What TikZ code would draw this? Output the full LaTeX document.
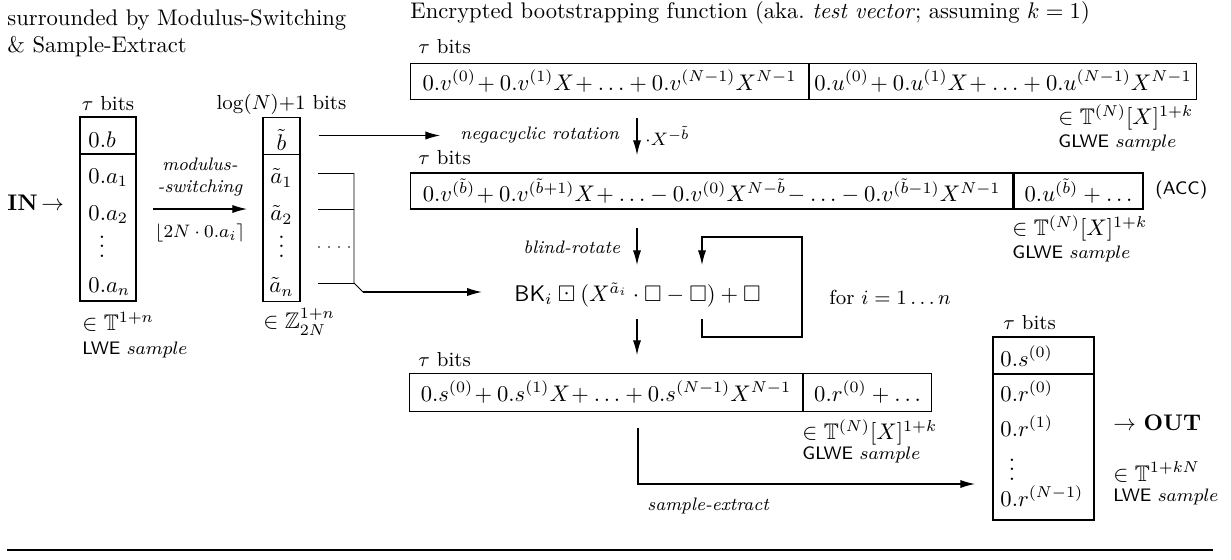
\documentclass[tikz,border=0pt]{standalone}
\usepackage{amsmath,amssymb}
\usetikzlibrary{arrows.meta}
\newcommand{\pxu}{0.4425pt}
\begin{document}
\begin{tikzpicture}[x=0.4425pt, y=-0.4425pt,
  lbl/.style={inner sep=0pt},
  oplabel/.style={inner sep=0pt, font=\footnotesize\itshape},
  cell/.style={draw, inner sep=0pt, line width=0.45pt},
  lwecell/.style={draw, inner sep=0pt, line width=0.8pt},
  arr/.style={-{Latex[length=6.5pt,width=3.6pt]}, line width=0.5pt}]
\useasboundingbox (0,0) rectangle (1231,559);
% Headings
\node[lbl, anchor=west] (headA) at (7,20) {surrounded by Modulus-Switching};
\node[lbl, anchor=west] (headB) at (7,47) {\& Sample-Extract};
\node[lbl, anchor=west] (headC) at (410,13) {Encrypted bootstrapping function (aka.\ \emph{test vector}; assuming $k=1$)};
% Input LWE sample
\node[lbl, anchor=west] (in) at (7,203) {\textbf{IN}\,$\rightarrow$};
\node[lwecell, minimum width=56*\pxu, minimum height=37*\pxu] (lwetop) at (108,135.5) {};
\node[lwecell, minimum width=56*\pxu, minimum height=147*\pxu] (lwebody) at (108,227.5) {};
\node[lbl, anchor=west] (lweb) at (88,140) {$0.b$};
\node[lbl, anchor=west] (lwea1) at (88,178) {$0.a_1$};
\node[lbl, anchor=west] (lwea2) at (88,215) {$0.a_2$};
\node[lbl] (lwedots) at (102,240) {$\vdots$};
\node[lbl, anchor=west] (lwean) at (88,287) {$0.a_n$};
\node[lbl] (lwebits) at (108,104) {\small $\tau$ bits};
\node[lbl, anchor=west] (lweset) at (82,322) {$\in \mathbb{T}^{1+n}$};
\node[lbl, anchor=west] (lwename) at (82,350) {\footnotesize\textsf{LWE} $sample$};
% Modulus switching
\coordinate (msl) at (153,209);
\coordinate (msr) at (247,209);
\draw[arr] (msl) -- (msr);
\node[oplabel, align=center] (mslabel) at (200,177) {modulus-\\-switching};
\node[lbl, font=\footnotesize] (msround) at (200,233) {$\lfloor 2N\cdot 0.a_i\rceil$};
% Switched sample
\node[cell, minimum width=37*\pxu, minimum height=37*\pxu] (ztop) at (281.5,135.5) {};
\node[cell, minimum width=37*\pxu, minimum height=147*\pxu] (zbody) at (281.5,227.5) {};
\node[lbl] (zb) at (281.5,140) {$\tilde{b}$};
\node[lbl] (za1) at (281.5,178) {$\tilde{a}_1$};
\node[lbl] (za2) at (281.5,215) {$\tilde{a}_2$};
\node[lbl] (zdots) at (281.5,240) {$\vdots$};
\node[lbl] (zan) at (281.5,287) {$\tilde{a}_n$};
\node[lbl] (zbits) at (281.5,104) {\small $\log(N){+}1$ bits};
\node[lbl, anchor=west] (zset) at (263,322) {$\in \mathbb{Z}_{2N}^{1+n}$};
% Test vector
\node[lbl, anchor=west] (tvbits) at (418,47) {\small $\tau$ bits};
\node[cell, anchor=west, minimum width=398*\pxu, minimum height=36*\pxu] (tvv) at (410,81) {$0.v^{(0)}\!+0.v^{(1)}X\!+\ldots+0.v^{(N-1)}X^{N-1}$};
\node[cell, anchor=west, minimum width=387*\pxu, minimum height=36*\pxu] (tvu) at (tvv.east) {$0.u^{(0)}\!+0.u^{(1)}X\!+\ldots+0.u^{(N-1)}X^{N-1}$};
\node[lbl, anchor=west] (tvset) at (1058,117) {$\in \mathbb{T}^{(N)}[X]^{1+k}$};
\node[lbl, anchor=west] (tvname) at (1058,143) {\footnotesize\textsf{GLWE} $sample$};
% Negacyclic rotation
\node[oplabel, anchor=west] (negrot) at (460,135.5) {negacyclic rotation};
\node[lbl, anchor=west, font=\footnotesize] (negpow) at (645,136) {$\cdot X^{-\tilde{b}}$};
\draw[arr, shorten <=8pt, shorten >=8.8pt] (ztop.east) -- (negrot.west);
\coordinate (ngt) at (637,118);
\coordinate (ngb) at (637,155);
\draw[arr] (ngt) -- (ngb);
% Accumulator
\node[lbl, anchor=west] (accbits) at (418,158) {\small $\tau$ bits};
\node[cell, anchor=west, minimum width=602*\pxu, minimum height=36*\pxu, line width=0.6pt] (accv) at (410,191) {$0.v^{(\tilde{b})}\!+0.v^{(\tilde{b}+1)}X\!+\ldots-0.v^{(0)}X^{N-\tilde{b}}\!-\ldots-0.v^{(\tilde{b}-1)}X^{N-1}$};
\node[cell, anchor=west, minimum width=129*\pxu, minimum height=36*\pxu, line width=0.6pt] (accu) at (accv.east) {$0.u^{(\tilde{b})}+\ldots$};
\node[lbl, anchor=west, font=\footnotesize\sffamily] (acc) at (1155,190) {(ACC)};
\node[lbl, anchor=west] (accset) at (1012,228) {$\in \mathbb{T}^{(N)}[X]^{1+k}$};
\node[lbl, anchor=west] (accname) at (1012,254) {\footnotesize\textsf{GLWE} $sample$};
% Mask coefficients to the blind rotation
\coordinate (ja1) at (318,173);
\coordinate (jb1) at (354,173);
\coordinate (ja2) at (318,209);
\coordinate (jb2) at (354,209);
\coordinate (jan) at (318,283);
\coordinate (jbn) at (354,283);
\coordinate (jk) at (363,292);
\coordinate (dta) at (318,247);
\coordinate (dtb) at (350,247);
\draw (ja1) -- (jb1);
\draw (ja2) -- (jb2);
\draw (jan) -- (jbn);
\draw (jb1) -- (jbn) -- (jk);
\draw[gray, line width=0.8pt, dash pattern=on 0.8pt off 3.6pt] (dta) -- (dtb);
% Blind rotation
\node[lbl, anchor=west] (bk) at (514,295) {$\mathsf{BK}_i \boxdot (X^{\tilde{a}_i}\cdot\square-\square)+\square$};
\draw[arr, shorten >=14.2pt] (jk) -- (jk -| bk.west);
\node[oplabel, anchor=west] (brlabel) at (523,247) {blind-rotate};
\coordinate (brt) at (637,228);
\coordinate (brb) at (637,265);
\draw[arr] (brt) -- (brb);
\coordinate (lpa) at (702,319);
\coordinate (lpb) at (702,265);
\coordinate (lpc) at (802,337);
\coordinate (lpd) at (802,237);
\draw[arr] (lpa) |- (lpc) -- (lpd) -| (lpb);
\node[lbl, anchor=west, font=\small] (loop) at (829,297) {for $i=1\ldots n$};
\coordinate (dnt) at (637,319);
\coordinate (dnb) at (637,355);
\draw[arr] (dnt) -- (dnb);
% Rotated accumulator
\node[lbl, anchor=west] (sbits) at (418,360) {\small $\tau$ bits};
\node[cell, anchor=west, minimum width=393*\pxu, minimum height=38*\pxu] (sv) at (409,392) {$0.s^{(0)}\!+0.s^{(1)}X\!+\ldots+0.s^{(N-1)}X^{N-1}$};
\node[cell, anchor=west, minimum width=128*\pxu, minimum height=38*\pxu] (ru) at (sv.east) {$0.r^{(0)}+\ldots$};
\node[lbl, anchor=west] (sset) at (802,432) {$\in \mathbb{T}^{(N)}[X]^{1+k}$};
\node[lbl, anchor=west] (sname) at (802,455) {\footnotesize\textsf{GLWE} $sample$};
% Sample extraction
\coordinate (sxa) at (638,428);
\coordinate (sxb) at (975,484);
\draw[arr] (sxa) |- (sxb);
\node[oplabel, anchor=west] (sxlabel) at (647,506) {sample-extract};
% Output LWE sample
\node[lwecell, minimum width=101*\pxu, minimum height=37*\pxu] (outtop) at (1043.5,355.5) {};
\node[lwecell, minimum width=101*\pxu, minimum height=146*\pxu] (outbody) at (1043.5,447) {};
\node[lbl, anchor=west] (outs) at (1000,356) {$0.s^{(0)}$};
\node[lbl, anchor=west] (outr0) at (1000,391) {$0.r^{(0)}$};
\node[lbl, anchor=west] (outr1) at (1000,426) {$0.r^{(1)}$};
\node[lbl] (outdots) at (1012,463) {$\vdots$};
\node[lbl, anchor=west] (outrn) at (1000,496) {$0.r^{(N-1)}$};
\node[lbl, anchor=west] (outbits) at (1003,323) {\small $\tau$ bits};
\node[lbl, anchor=west] (out) at (1113,423) {$\rightarrow$ \textbf{OUT}};
\node[lbl, anchor=west] (outset) at (1113,472) {$\in \mathbb{T}^{1+kN}$};
\node[lbl, anchor=west] (outname) at (1113,497) {\footnotesize\textsf{LWE} $sample$};
% Closing rule
\coordinate (rla) at (7,550);
\coordinate (rlb) at (1213,550);
\draw[line width=0.8pt] (rla) -- (rlb);
\end{tikzpicture}
\end{document}
